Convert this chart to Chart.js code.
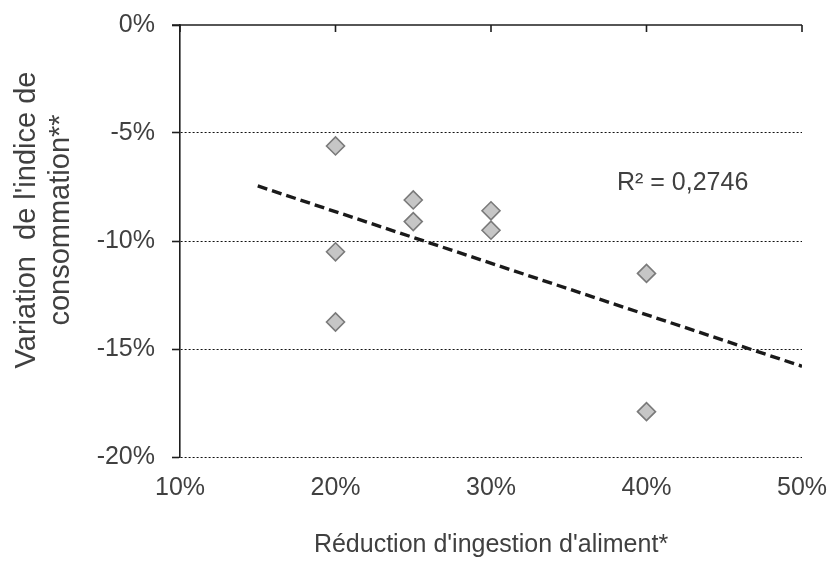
<!DOCTYPE html>
<html>
<head>
<meta charset="utf-8">
<script src="https://cdn.jsdelivr.net/npm/chart.js@4.4.1/dist/chart.umd.min.js"></script>
<style>
  html, body { margin: 0; padding: 0; background: #ffffff; }
  #wrap { width: 832px; height: 562px; position: relative; }
</style>
</head>
<body>
<div id="wrap"><canvas id="c" width="832" height="562"></canvas></div>
<script>
// ---- data ----
const reductionX = [0.20, 0.20, 0.20, 0.25, 0.25, 0.30, 0.30, 0.40, 0.40];
const variationY = [-0.056, -0.105, -0.1375, -0.081, -0.091, -0.086, -0.095, -0.115, -0.179];
const trendX = [0.15, 0.50];
const trendY = [-0.0745, -0.158];
const xTickValues = [0.10, 0.20, 0.30, 0.40, 0.50];
const yTickValues = [0, -0.05, -0.10, -0.15, -0.20];
const xTitle = "Réduction d'ingestion d'aliment*";
const yTitleLines = ["Variation  de l'indice de", "consommation**"];
const r2Label = "R² = 0,2746";
const r2Pos = [0.381, -0.0731];

const FONT = "'Liberation Sans', Arial, sans-serif";
const TXT = '#404040';
const AXIS = '#1e1e1e';
const pct = v => Math.round(v * 100) + '%';

const scatterPts = reductionX.map((x, i) => ({ x: x, y: variationY[i] }));
const trendPts = trendX.map((x, i) => ({ x: x, y: trendY[i] }));

const decor = {
  id: 'decor',
  afterDraw(chart) {
    const ctx = chart.ctx;
    const xs = chart.scales.x, ys = chart.scales.y;
    const area = chart.chartArea;
    const y0 = ys.getPixelForValue(0);
    ctx.save();
    ctx.setLineDash([]);
    ctx.strokeStyle = AXIS;
    ctx.lineWidth = 1.6;
    ctx.beginPath();
    ctx.moveTo(area.left - 8, y0);
    ctx.lineTo(xs.getPixelForValue(xTickValues[xTickValues.length - 1]), y0);
    ctx.stroke();
    xTickValues.forEach(v => {
      const px = xs.getPixelForValue(v);
      ctx.beginPath();
      ctx.moveTo(px, y0);
      ctx.lineTo(px, y0 + 7);
      ctx.stroke();
    });
    ctx.fillStyle = TXT;
    ctx.font = '29px ' + FONT;
    ctx.textAlign = 'center';
    ctx.textBaseline = 'middle';
    const cy = 220;
    [27, 61].forEach((cx, i) => {
      ctx.save();
      ctx.translate(cx, cy);
      ctx.rotate(-Math.PI / 2);
      ctx.fillText(yTitleLines[i], 0, 0);
      ctx.restore();
    });
    ctx.font = '25px ' + FONT;
    ctx.textAlign = 'left';
    ctx.fillText(r2Label, xs.getPixelForValue(r2Pos[0]), ys.getPixelForValue(r2Pos[1]));
    ctx.restore();
  }
};

new Chart(document.getElementById('c'), {
  type: 'scatter',
  data: {
    datasets: [
      {
        label: 'data',
        data: scatterPts,
        pointStyle: 'rectRot',
        pointRadius: 9,
        pointHoverRadius: 9,
        backgroundColor: '#c6c6c6',
        borderColor: '#7a7a7a',
        borderWidth: 1.6,
        order: 1
      },
      {
        label: 'trend',
        type: 'line',
        data: trendPts,
        showLine: true,
        borderColor: '#1a1a1a',
        borderWidth: 3.4,
        borderDash: [10, 5],
        pointRadius: 0,
        fill: false,
        order: 2
      }
    ]
  },
  options: {
    responsive: false,
    animation: false,
    devicePixelRatio: 1,
    layout: { padding: { top: 25, right: 30, left: 0, bottom: 0 } },
    plugins: {
      legend: { display: false },
      tooltip: { enabled: false },
      title: { display: false }
    },
    scales: {
      x: {
        type: 'linear',
        position: 'bottom',
        min: xTickValues[0],
        max: xTickValues[xTickValues.length - 1],
        afterBuildTicks: s => { s.ticks = xTickValues.map(v => ({ value: v })); },
        afterFit: s => { s.height = 105; s.paddingLeft = 0; s.paddingRight = 0; },
        grid: { display: false, drawTicks: false },
        border: { display: false },
        ticks: {
          padding: 16,
          color: TXT,
          font: { family: FONT, size: 25 },
          callback: v => pct(v),
          maxRotation: 0
        },
        title: {
          display: true,
          text: xTitle,
          color: TXT,
          font: { family: FONT, size: 25 },
          padding: { top: 0, bottom: 2 }
        }
      },
      y: {
        type: 'linear',
        min: yTickValues[yTickValues.length - 1],
        max: yTickValues[0],
        afterBuildTicks: s => { s.ticks = yTickValues.slice().reverse().map(v => ({ value: v })); },
        afterFit: s => { s.width = 180; s.paddingTop = 0; s.paddingBottom = 0; },
        grid: {
          color: c => (c.tick && Math.abs(c.tick.value) < 1e-9) ? 'rgba(0,0,0,0)' : '#111111',
          lineWidth: 1,
          borderDash: [2, 2],
          drawTicks: true,
          tickLength: 8,
          tickColor: AXIS,
          tickWidth: 1.6,
          tickBorderDash: []
        },
        border: { display: true, color: AXIS, width: 1.6, dash: [2, 2] },
        ticks: {
          padding: 17,
          color: TXT,
          font: { family: FONT, size: 25 },
          callback: v => pct(v)
        }
      }
    }
  },
  plugins: [decor]
});
</script>
</body>
</html>
